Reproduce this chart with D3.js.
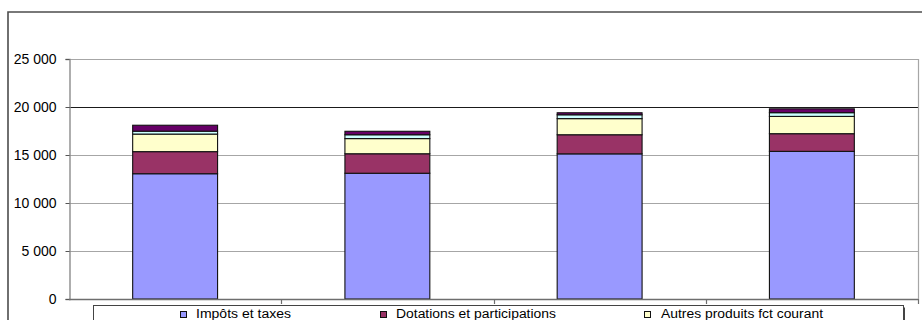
<!DOCTYPE html>
<html>
<head>
<meta charset="utf-8">
<script src="https://cdn.jsdelivr.net/npm/d3@7"></script>
<style>
  html, body { margin: 0; padding: 0; background: #fff; }
  svg { display: block; font-family: "Liberation Sans", Arial, sans-serif; }
</style>
</head>
<body>
<svg id="chart" width="922" height="320"></svg>
<script>
// Recettes de fonctionnement par exercice (en milliers d'euros)
const categories = ["Exercice 1", "Exercice 2", "Exercice 3", "Exercice 4"];
const seriesNames = [
  "Impôts et taxes",
  "Dotations et participations",
  "Autres produits fct courant",
  "Produits financiers",
  "Produits exceptionnels"
];
const impotsTaxes      = [13050, 13100, 15120, 15380];
const dotations        = [2300, 2030, 1990, 1840];
const autresProduits   = [1830, 1580, 1680, 1800];
const produitsFin      = [300, 400, 400, 390];
const produitsExcept   = [620, 360, 210, 400];
const yTicks = [0, 5000, 10000, 15000, 20000, 25000];
const seriesColors = ["#9999FF", "#993366", "#FFFFCC", "#CCFFFF", "#660066"];

const valuesBySeries = [impotsTaxes, dotations, autresProduits, produitsFin, produitsExcept];
const rows = categories.map((c, i) => {
  const r = { category: c };
  seriesNames.forEach((s, k) => { r[s] = valuesBySeries[k][i]; });
  return r;
});

const svg = d3.select("#chart");
const plot = { left: 69, right: 918, top: 59, bottom: 299 };

const x = d3.scaleBand()
  .domain(categories)
  .range([plot.left, plot.right])
  .paddingInner(0.6)
  .paddingOuter(0.3);

const y = d3.scaleLinear()
  .domain([0, 25000])
  .range([plot.bottom, plot.top]);

const fmt = v => d3.format(",")(v).replace(/,/g, " ");

// outer chart frame
svg.append("path")
  .attr("d", `M8,320 V12 H922`)
  .attr("fill", "none")
  .attr("stroke", "#4d4d4d")
  .attr("stroke-width", 1.6);

// horizontal gridlines
svg.append("g")
  .selectAll("line")
  .data(yTicks.filter(t => t > 0))
  .join("line")
  .attr("x1", plot.left)
  .attr("x2", plot.right)
  .attr("y1", d => Math.round(y(d)) + 0.5)
  .attr("y2", d => Math.round(y(d)) + 0.5)
  .attr("stroke", d => d === 20000 ? "#1a1a1a" : "#a6a6a6")
  .attr("stroke-width", 1.2);

// right border of the plot area
svg.append("line")
  .attr("x1", plot.right + 0.5).attr("x2", plot.right + 0.5)
  .attr("y1", plot.top).attr("y2", plot.bottom)
  .attr("stroke", "#a6a6a6").attr("stroke-width", 1.2);

// stacked bars
const stack = d3.stack().keys(seriesNames);
const layers = stack(rows);

svg.append("g")
  .selectAll("g")
  .data(layers)
  .join("g")
  .attr("fill", (d, i) => seriesColors[i])
  .selectAll("rect")
  .data(d => d)
  .join("rect")
  .attr("x", d => x(d.data.category))
  .attr("y", d => y(d[1]))
  .attr("width", x.bandwidth())
  .attr("height", d => y(d[0]) - y(d[1]))
  .attr("stroke", "#111")
  .attr("stroke-width", 1.1);

// y axis
const yAxis = d3.axisLeft(y)
  .tickValues(yTicks)
  .tickFormat(fmt)
  .tickSize(4)
  .tickPadding(9);

const yg = svg.append("g")
  .attr("transform", `translate(${plot.left + 0.5},0)`)
  .call(yAxis);
yg.select(".domain").attr("stroke", "#8c8c8c").attr("stroke-width", 1.4);
yg.selectAll(".tick line").attr("stroke", "#555");
yg.selectAll(".tick text")
  .attr("fill", "#000")
  .style("font-size", "14px")
  .style("font-family", "'Liberation Sans', Arial, sans-serif");

// x axis with tick marks at category boundaries
const boundaries = d3.range(categories.length + 1).map(i => plot.left + i * x.step());
const xg = svg.append("g");
xg.append("line")
  .attr("x1", plot.left).attr("x2", plot.right)
  .attr("y1", plot.bottom + 0.5).attr("y2", plot.bottom + 0.5)
  .attr("stroke", "#6e6e6e").attr("stroke-width", 1.6);
xg.selectAll("line.tick")
  .data(boundaries.slice(1))
  .join("line")
  .attr("class", "tick")
  .attr("x1", d => Math.round(d) + 0.5).attr("x2", d => Math.round(d) + 0.5)
  .attr("y1", plot.bottom).attr("y2", plot.bottom + 5)
  .attr("stroke", "#6e6e6e").attr("stroke-width", 1.2);

// legend
const legend = svg.append("g");
legend.append("rect")
  .attr("x", 95).attr("y", 307.5)
  .attr("width", 810).attr("height", 30)
  .attr("fill", "#444");
legend.append("rect")
  .attr("x", 93.5).attr("y", 305.5)
  .attr("width", 810).attr("height", 30)
  .attr("fill", "#fff")
  .attr("stroke", "#444")
  .attr("stroke-width", 1);

const legendItems = [
  { name: seriesNames[0], mx: 180, tx: 196, w: 95 },
  { name: seriesNames[1], mx: 380, tx: 396, w: 160 },
  { name: seriesNames[2], mx: 644, tx: 661, w: 162 }
];
legendItems.forEach((it, i) => {
  legend.append("rect")
    .attr("x", it.mx + 0.5).attr("y", 311.5)
    .attr("width", 6).attr("height", 6)
    .attr("fill", seriesColors[i])
    .attr("stroke", "#111").attr("stroke-width", 1);
  legend.append("text")
    .attr("x", it.tx).attr("y", 318)
    .attr("textLength", it.w)
    .attr("lengthAdjust", "spacingAndGlyphs")
    .style("font-size", "12.5px")
    .text(it.name);
});
</script>
</body>
</html>
